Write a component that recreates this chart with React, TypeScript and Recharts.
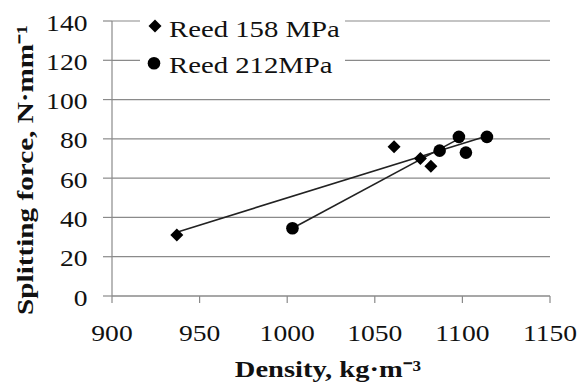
import React from 'react';
import { ComposedChart, Scatter, XAxis, YAxis, CartesianGrid, Legend } from 'recharts';

// Data
const reed158Density = [937, 1061, 1076, 1082];
const reed158Force = [31, 76, 70, 66];
const reed212Density = [1003, 1087, 1098, 1102, 1114];
const reed212Force = [34.5, 74, 81, 73, 81];
const trend158Density = [937, 1114];
const trend158Force = [32.5, 81.5];
const trend212Density = [1003, 1100];
const trend212Force = [34.5, 81];
const xTicks = [900, 950, 1000, 1050, 1100, 1150];
const yTicks = [0, 20, 40, 60, 80, 100, 120, 140];
const series158Name = 'Reed 158 MPa';
const series212Name = 'Reed 212MPa';
const xTitle = 'Density, kg·m⁻³';
const yTitle = 'Splitting force, N·mm⁻¹';

const zip = (xs: number[], ys: number[]) => xs.map((x, i) => ({ x, y: ys[i] }));
const data158 = zip(reed158Density, reed158Force);
const data212 = zip(reed212Density, reed212Force);
const trend158 = zip(trend158Density, trend158Force);
const trend212 = zip(trend212Density, trend212Force);

const FONT = '"Liberation Serif", "Times New Roman", serif';
const GRID = '#8a8a8a';

const Diamond = (p: any) => {
  const { cx, cy } = p;
  if (cx == null || cy == null) return <g />;
  const s = 6.5;
  return <path d={`M${cx},${cy - s}L${cx + s},${cy}L${cx},${cy + s}L${cx - s},${cy}Z`} fill="#000" />;
};
const Dot = (p: any) => {
  const { cx, cy } = p;
  if (cx == null || cy == null) return <g />;
  return <circle cx={cx} cy={cy} r={6.3} fill="#000" />;
};
const NoShape = () => <g />;

const XTick = (p: any) => {
  const { x, y, payload } = p;
  return (
    <text transform={`translate(${x},${y + 35.5}) scale(1.2,1)`} textAnchor="middle" fontFamily={FONT} fontSize={23} fill="#111">
      {payload.value}
    </text>
  );
};
const YTick = (p: any) => {
  const { x, y, payload } = p;
  return (
    <text transform={`translate(${x - 13.5},${y + 9.5}) scale(1.2,1)`} textAnchor="end" fontFamily={FONT} fontSize={23} fill="#111">
      {payload.value}
    </text>
  );
};

const LegendBox = () => (
  <div style={{ background: '#fff', width: 205, height: 82 }}>
    <svg width={205} height={82}>
      <Diamond cx={15} cy={18} />
      <text transform="translate(29,28.7) scale(1.25,1)" fontFamily={FONT} fontSize={23} fill="#111">{series158Name}</text>
      <Dot cx={14} cy={55.3} />
      <text transform="translate(29,64.7) scale(1.25,1)" fontFamily={FONT} fontSize={23} fill="#111">{series212Name}</text>
    </svg>
  </div>
);

export default function App() {
  return (
    <div style={{ position: 'absolute', left: 0, top: 0, width: 580, height: 385, background: '#fff' }}>
      <ComposedChart width={580} height={385} margin={{ top: 21, right: 30, bottom: 0, left: 0 }}>
        <CartesianGrid vertical={false} stroke={GRID} strokeWidth={1.2} />
        <XAxis
          type="number"
          dataKey="x"
          domain={[900, 1150]}
          ticks={xTicks}
          allowDataOverflow
          height={89}
          tickSize={7}
          tickMargin={2}
          stroke={GRID}
          axisLine={{ stroke: GRID, strokeWidth: 1.2 }}
          tickLine={{ stroke: GRID, strokeWidth: 1.2 }}
          tick={<XTick />}
          label={{
            content: () => (
              <text transform="translate(328,377) scale(1.24,1)" textAnchor="middle" fontFamily={FONT} fontSize={23} fontWeight="bold" fill="#111">
                {xTitle}
              </text>
            ),
          }}
        />
        <YAxis
          type="number"
          dataKey="y"
          domain={[0, 140]}
          ticks={yTicks}
          allowDataOverflow
          width={112}
          tickSize={9}
          tickMargin={2}
          stroke={GRID}
          axisLine={{ stroke: GRID, strokeWidth: 1.2 }}
          tickLine={{ stroke: GRID, strokeWidth: 1.2 }}
          tick={<YTick />}
          label={{
            content: () => (
              <text transform="translate(33,170) rotate(-90) scale(1.27,1)" textAnchor="middle" fontFamily={FONT} fontSize={23} fontWeight="bold" fill="#111">
                {yTitle}
              </text>
            ),
          }}
        />
        <Legend
          layout="horizontal"
          verticalAlign="middle"
          align="center"
          wrapperStyle={{ left: 140, top: 8, width: 205, height: 82 }}
          content={() => <LegendBox />}
        />
        <Scatter name="trend158" data={trend158} line={{ stroke: '#222', strokeWidth: 1.6 }} shape={NoShape} legendType="none" isAnimationActive={false} />
        <Scatter name="trend212" data={trend212} line={{ stroke: '#222', strokeWidth: 1.6 }} shape={NoShape} legendType="none" isAnimationActive={false} />
        <Scatter name={series158Name} data={data158} shape={Diamond} isAnimationActive={false} />
        <Scatter name={series212Name} data={data212} shape={Dot} isAnimationActive={false} />
      </ComposedChart>
    </div>
  );
}
